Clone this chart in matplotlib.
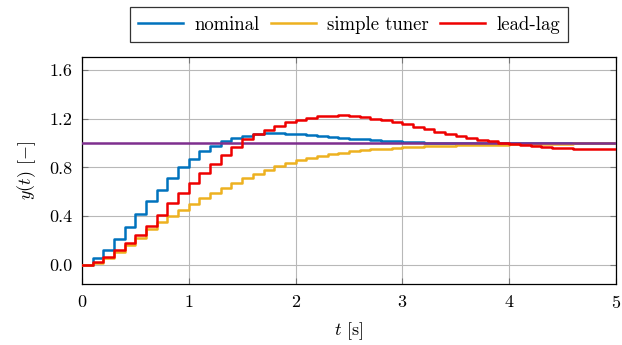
import numpy as np
import matplotlib
matplotlib.use('Agg')
import matplotlib.pyplot as plt

plt.rcParams['font.family'] = 'serif'
plt.rcParams['font.serif'] = ['cmr10', 'DejaVu Serif']
plt.rcParams['mathtext.fontset'] = 'cm'
plt.rcParams['axes.formatter.use_mathtext'] = True

# sample instants (Ts = 0.1 s)
t = np.round(np.arange(0, 51) * 0.1, 1)

y_nominal = [0, 0.05, 0.12, 0.21, 0.31, 0.415, 0.52, 0.615, 0.71, 0.80,
             0.87, 0.935, 0.98, 1.016, 1.042, 1.062, 1.075, 1.081, 1.082, 1.079,
             1.074, 1.068, 1.061, 1.053, 1.046, 1.038, 1.031, 1.025, 1.019, 1.014,
             1.010, 1.006, 1.003, 1.001, 0.999, 0.998, 0.997, 0.997, 0.997, 0.997,
             0.998, 0.998, 0.999, 0.999, 0.999, 0.999, 1.0, 1.0, 1.0, 1.0, 1.0]

y_simple = [0, 0.015, 0.05, 0.10, 0.16, 0.22, 0.29, 0.35, 0.40, 0.45,
            0.50, 0.545, 0.59, 0.63, 0.67, 0.71, 0.745, 0.778, 0.81, 0.835,
            0.857, 0.877, 0.895, 0.91, 0.922, 0.932, 0.941, 0.949, 0.955, 0.96,
            0.965, 0.969, 0.973, 0.976, 0.979, 0.981, 0.983, 0.985, 0.987, 0.988,
            0.990, 0.992, 0.993, 0.994, 0.995, 0.996, 0.997, 0.997, 0.998, 0.998, 0.998]

y_leadlag = [0, 0.02, 0.065, 0.12, 0.175, 0.24, 0.32, 0.41, 0.505, 0.59,
             0.675, 0.755, 0.83, 0.90, 0.965, 1.03, 1.075, 1.11, 1.14, 1.17,
             1.19, 1.208, 1.22, 1.227, 1.228, 1.224, 1.214, 1.202, 1.188, 1.172,
             1.154, 1.133, 1.113, 1.095, 1.077, 1.06, 1.043, 1.028, 1.014, 1.003,
             0.993, 0.985, 0.977, 0.969, 0.963, 0.958, 0.955, 0.953, 0.952, 0.951, 0.951]

reference = 1.0

fig = plt.figure(figsize=(6.22, 3.45), dpi=100)
ax = fig.add_axes([0.1318, 0.177, 0.8585, 0.658])

lw = 1.8
ax.step(t, y_nominal, where='post', color='#0072BD', lw=lw, label='nominal', zorder=3)
ax.step(t, y_simple, where='post', color='#EDB120', lw=lw, label='simple tuner', zorder=3)
ax.axhline(reference, color='#7E2F8E', lw=lw, zorder=4)
ax.step(t, y_leadlag, where='post', color='#EE0000', lw=lw, label='lead-lag', zorder=5)

ax.set_xlim(0, 5)
ax.set_ylim(-0.16, 1.71)
ax.set_xticks([0, 1, 2, 3, 4, 5])
ax.set_yticks([0.0, 0.4, 0.8, 1.2, 1.6])
ax.set_yticklabels(['0.0', '0.4', '0.8', '1.2', '1.6'])
ax.grid(True, color='#b8b8b8', lw=0.8)
ax.set_axisbelow(True)
ax.tick_params(direction='in', length=4, color='#777777', top=True, right=True,
               labelsize=13, pad=7)
for s in ax.spines.values():
    s.set_linewidth(0.9)

ax.set_xlabel(r'$t$ [s]', fontsize=13, labelpad=7)
ax.set_ylabel(r'$y(t)$ $[-]$', fontsize=13, labelpad=8)

leg = ax.legend(loc='lower center', bbox_to_anchor=(0.5, 1.066), ncol=3,
                fontsize=13.5, frameon=True, fancybox=False, edgecolor='black',
                handlelength=2.4, handletextpad=0.6, columnspacing=0.6,
                borderpad=0.45, borderaxespad=0)
leg.get_frame().set_linewidth(0.9)

fig.savefig('out.png', dpi=100)
